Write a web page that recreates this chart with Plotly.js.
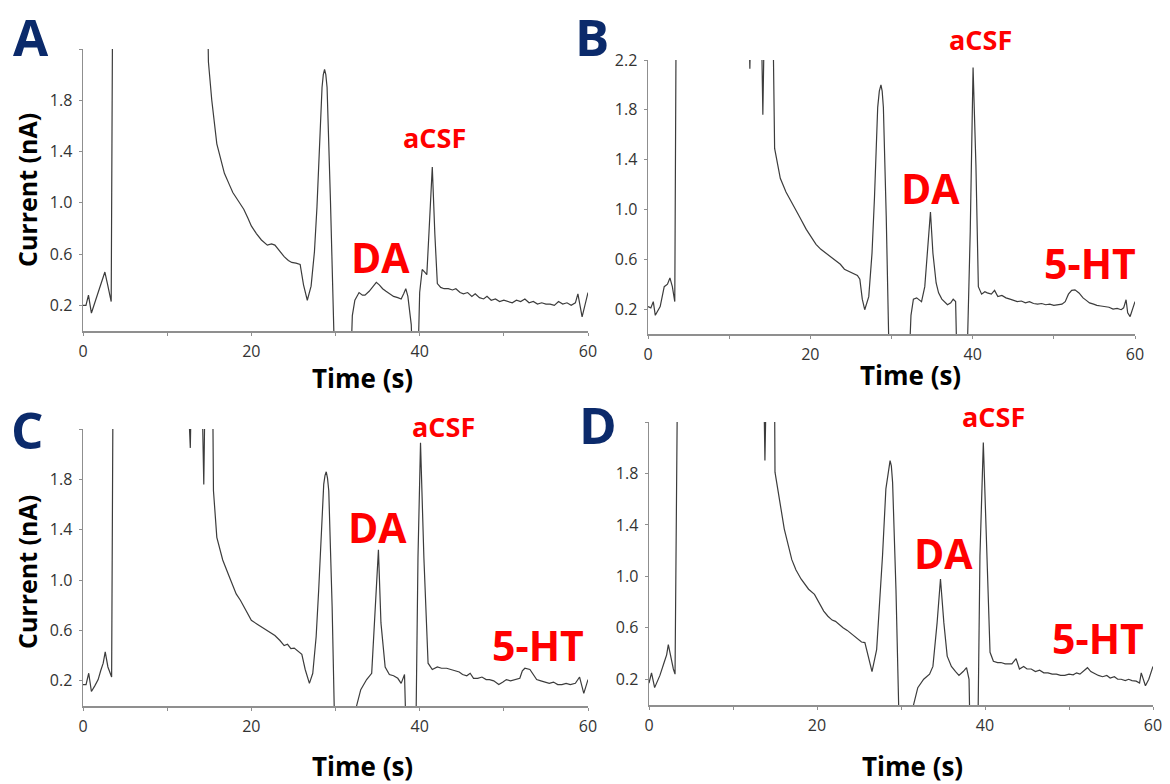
<!DOCTYPE html>
<html>
<head>
<meta charset="utf-8">
<script src="https://cdn.plot.ly/plotly-3.0.1.min.js"></script>
<style>html,body{margin:0;padding:0;background:#fff;}#chart{width:1170px;height:784px;}</style>
</head>
<body>
<div id="chart"></div>
<script>
// ---- Data (time in s, current in nA) ----
const tA = [0,0.35,0.65,1.0,1.4,1.8,2.2,2.6,2.9,3.35,3.55,14.7,14.9,15.3,15.9,16.8,17.4,17.8,18.4,19.1,19.6,20.0,20.6,21.2,21.9,22.4,22.8,23.3,23.9,24.4,24.8,25.3,25.8,26.2,26.65,27.1,27.5,27.8,28.1,28.4,28.55,28.7,28.85,29.0,29.4,29.7,30.0,31.7,32.0,32.3,32.8,33.2,33.5,34.0,34.4,34.85,35.2,35.6,36.0,36.4,36.9,37.4,37.8,38.1,38.35,38.6,39.0,39.3,39.7,40.0,40.3,40.6,40.85,41.1,41.5,41.8,42.1,42.5,42.9,43.4,43.9,44.3,44.8,45.2,45.7,46.2,46.6,47.1,47.6,48.0,48.5,49.0,49.5,50.0,50.5,51.0,51.5,52.0,52.5,53.0,53.5,54.0,54.5,55.0,55.5,56.0,56.5,57.0,57.5,58.0,58.5,58.8,59.3,59.7,60.0];
const vA = [0.20,0.20,0.28,0.14,0.22,0.30,0.37,0.46,0.37,0.23,3.0,3.0,2.1,1.80,1.46,1.23,1.14,1.08,1.02,0.95,0.88,0.82,0.76,0.71,0.67,0.68,0.67,0.63,0.58,0.55,0.535,0.53,0.52,0.36,0.24,0.35,0.62,0.97,1.45,1.90,2.0,2.04,2.0,1.90,1.02,0.2,-0.5,-0.5,0.12,0.24,0.30,0.28,0.28,0.31,0.34,0.38,0.36,0.33,0.31,0.29,0.27,0.26,0.25,0.29,0.33,0.27,0.05,-0.5,-0.5,0.30,0.48,0.46,0.44,0.76,1.28,0.76,0.37,0.34,0.33,0.33,0.32,0.33,0.30,0.29,0.30,0.27,0.29,0.26,0.25,0.27,0.24,0.25,0.23,0.24,0.23,0.22,0.24,0.23,0.25,0.22,0.23,0.21,0.22,0.21,0.21,0.20,0.23,0.21,0.22,0.20,0.22,0.29,0.11,0.22,0.30];

const tB = [0,0.35,0.65,0.9,1.5,2.0,2.4,2.7,3.0,3.3,3.5,12.3,12.55,12.8,13.85,14.15,14.45,15.3,15.6,16.3,17.0,17.7,18.6,19.5,20.1,20.7,21.3,21.9,22.5,23.2,23.7,24.2,24.8,25.3,25.8,26.1,26.4,26.7,27.2,27.6,27.9,28.3,28.5,28.7,28.85,29.0,29.35,29.8,32.0,32.4,32.7,33.1,33.7,34.1,34.4,34.8,35.1,35.5,35.8,36.2,36.9,37.3,37.6,37.9,38.15,39.2,39.7,40.05,40.4,40.7,41.1,41.5,41.8,42.3,42.7,43.1,43.6,44.1,44.6,45.0,45.5,46.0,46.5,47.0,47.5,48.0,48.5,49.0,49.5,50.0,50.5,51.0,51.4,51.8,52.2,52.6,53.1,53.6,54.0,54.4,54.9,55.3,55.8,56.3,56.8,57.3,57.8,58.3,58.6,58.9,59.1,59.4,60.0];
const vB = [0.22,0.21,0.26,0.15,0.22,0.38,0.40,0.45,0.38,0.26,3.0,3.0,2.13,3.0,3.0,1.76,3.0,3.0,1.49,1.25,1.14,1.06,0.95,0.84,0.78,0.72,0.68,0.65,0.62,0.59,0.56,0.52,0.50,0.49,0.47,0.44,0.28,0.195,0.30,0.65,1.09,1.82,1.95,2.0,1.95,1.82,0.95,-0.5,-0.5,0.15,0.28,0.29,0.26,0.38,0.65,0.98,0.65,0.41,0.33,0.28,0.235,0.25,0.28,0.26,-0.5,-0.5,0.82,2.14,1.36,0.38,0.32,0.34,0.33,0.32,0.35,0.30,0.31,0.29,0.28,0.27,0.26,0.265,0.25,0.26,0.245,0.24,0.245,0.235,0.24,0.23,0.235,0.24,0.26,0.32,0.35,0.355,0.33,0.29,0.27,0.25,0.24,0.23,0.225,0.22,0.215,0.20,0.205,0.195,0.21,0.275,0.17,0.14,0.26];

const tC = [0,0.36,0.68,1.0,1.4,1.8,2.1,2.4,2.64,2.96,3.4,3.6,12.15,12.75,13.0,14.0,14.35,14.6,15.35,15.5,15.9,16.6,17.3,17.8,18.2,18.7,19.1,19.6,20.0,20.7,21.4,22.1,22.8,23.4,23.9,24.3,24.7,25.1,25.6,26.0,26.4,26.9,27.3,27.7,28.0,28.3,28.6,28.75,28.9,29.05,29.2,29.6,30.0,31.9,32.5,33.0,33.7,34.3,34.6,35.1,35.4,35.9,36.4,36.9,37.4,37.8,38.2,38.5,39.5,39.8,40.1,40.5,41.0,41.5,42.1,42.6,43.2,43.7,44.2,44.7,45.1,45.6,46.0,46.4,46.9,47.4,47.9,48.3,48.8,49.4,49.9,50.3,50.8,51.3,51.9,52.2,52.5,53.1,53.5,53.9,54.4,54.9,55.4,55.9,56.4,56.9,57.4,57.9,58.5,59.0,59.5,60.0];
const vC = [0.17,0.17,0.26,0.115,0.16,0.21,0.28,0.34,0.43,0.31,0.23,3.0,3.0,2.05,3.0,3.0,1.76,3.0,3.0,1.71,1.34,1.16,1.04,0.96,0.89,0.84,0.79,0.73,0.68,0.65,0.62,0.59,0.56,0.52,0.48,0.49,0.455,0.46,0.43,0.41,0.29,0.18,0.26,0.55,0.92,1.40,1.76,1.83,1.86,1.81,1.71,0.79,-0.5,-0.5,0.0,0.13,0.21,0.26,0.66,1.24,0.66,0.31,0.25,0.24,0.22,0.18,0.25,-0.5,-0.5,1.18,2.09,1.18,0.34,0.29,0.31,0.30,0.30,0.29,0.28,0.27,0.25,0.24,0.26,0.22,0.22,0.23,0.21,0.21,0.20,0.17,0.19,0.21,0.20,0.21,0.22,0.28,0.30,0.29,0.25,0.21,0.20,0.19,0.18,0.19,0.17,0.17,0.18,0.17,0.18,0.23,0.10,0.21];

const tD = [0,0.3,0.67,1.3,1.8,2.1,2.3,2.55,2.9,3.1,3.45,13.55,13.8,14.1,14.9,15.0,15.45,16.1,17.0,17.5,18.1,18.6,19.0,19.7,20.4,20.8,21.3,21.8,22.2,22.7,23.1,23.6,24.0,24.5,24.9,25.3,25.7,26.1,26.55,27.1,27.5,27.8,28.2,28.5,28.7,28.85,29.0,29.4,29.9,31.3,32.0,32.7,33.4,33.8,34.3,34.7,35.1,35.5,36.0,36.5,36.9,37.4,37.8,38.1,38.3,39.1,39.4,39.8,40.2,40.6,41.0,41.5,41.9,42.4,42.8,43.2,43.7,44.1,44.6,45.0,45.5,46.0,46.5,47.0,47.5,48.0,48.5,49.0,49.5,50.0,50.5,50.9,51.3,51.8,52.2,52.6,53.1,53.5,54.0,54.5,54.9,55.4,55.8,56.2,56.7,57.1,57.5,58.0,58.4,58.6,59.1,59.5,60.0];
const vD = [0.17,0.25,0.135,0.23,0.33,0.39,0.47,0.38,0.28,0.24,3.0,3.0,1.90,3.0,3.0,1.81,1.62,1.37,1.13,1.05,0.98,0.93,0.90,0.86,0.77,0.73,0.69,0.66,0.65,0.62,0.60,0.58,0.56,0.53,0.51,0.49,0.485,0.38,0.26,0.43,0.80,1.16,1.68,1.83,1.90,1.86,1.73,0.90,-0.5,-0.05,0.135,0.20,0.24,0.30,0.64,0.98,0.64,0.38,0.30,0.26,0.23,0.26,0.29,0.20,-0.5,-0.5,1.16,2.04,1.16,0.41,0.34,0.33,0.33,0.32,0.32,0.32,0.36,0.28,0.30,0.28,0.28,0.26,0.27,0.25,0.25,0.24,0.24,0.23,0.23,0.24,0.235,0.25,0.24,0.27,0.29,0.26,0.24,0.23,0.22,0.23,0.21,0.22,0.20,0.20,0.19,0.20,0.19,0.185,0.17,0.25,0.15,0.20,0.30];

const xTickVals = [0,10,20,30,40,50,60];
const xTickText = ['0','','20','','40','','60'];
const yTickVals = [0.2,0.6,1.0,1.4,1.8,2.2];
const yTickTextACD = ['0.2','0.6','1.0','1.4','1.8',''];
const yTickTextB = ['0.2','0.6','1.0','1.4','1.8','2.2'];

const panelLetters = ['A','B','C','D'];
const xTitle = 'Time (s)';
const yTitle = 'Current (nA)';

// ---- Layout ----
const W = 1170, H = 784;
const px = x => x / W;
const py = y => 1 - y / H;

const lineStyle = {color:'#3c3c3c', width:1.2};
const traces = [
  {x:tA, y:vA, xaxis:'x',  yaxis:'y'},
  {x:tB, y:vB, xaxis:'x2', yaxis:'y2'},
  {x:tC, y:vC, xaxis:'x3', yaxis:'y3'},
  {x:tD, y:vD, xaxis:'x4', yaxis:'y4'}
].map(t => Object.assign(t, {type:'scatter', mode:'lines', line:lineStyle, hoverinfo:'skip', showlegend:false}));

function xax(x0, x1, anchor){
  return {domain:[px(x0), px(x1)], anchor:anchor, range:[0,60], showgrid:false, zeroline:false,
    showline:true, linecolor:'#8f8f8f', linewidth:1.5, ticks:'outside', ticklen:3, tickcolor:'#8f8f8f',
    tickvals:xTickVals, ticktext:xTickText, tickfont:{family:'Open Sans', size:16, color:'#333'}, ticklabelstandoff:2, fixedrange:true};
}
function yax(y0, y1, anchor, txt){
  return {domain:[py(y1), py(y0)], anchor:anchor, range:[0,2.2], showgrid:false, zeroline:false,
    showline:true, linecolor:'#8f8f8f', linewidth:1.5, ticks:'outside', ticklen:3, tickcolor:'#8f8f8f',
    tickvals:yTickVals, ticktext:txt, tickfont:{family:'Open Sans', size:16, color:'#333'}, ticklabelstandoff:3, fixedrange:true};
}

const red = '#ff0000';
function ann(text, x, y, size, color, extra){
  return Object.assign({text:text, x:px(x), y:py(y), xref:'paper', yref:'paper', showarrow:false,
    xanchor:'center', yanchor:'middle', font:{family:'Open Sans', size:size, color:color, weight:700}}, extra||{});
}

const annotations = [
  ann(panelLetters[0], 31, 36, 51, '#0b2a6b'),
  ann(panelLetters[1], 592, 36, 51, '#0b2a6b'),
  ann(panelLetters[2], 27, 429, 51, '#0b2a6b'),
  ann(panelLetters[3], 598, 424, 51, '#0b2a6b'),
  ann(yTitle, 27, 190, 25, '#000', {textangle:-90}),
  ann(yTitle, 27, 572, 25, '#000', {textangle:-90}),
  ann(xTitle, 362, 378, 26, '#000'),
  ann(xTitle, 910, 375, 26, '#000'),
  ann(xTitle, 362, 766, 26, '#000'),
  ann(xTitle, 912, 766, 26, '#000'),
  ann('DA', 380, 257, 41, red),
  ann('aCSF', 434, 137, 27, red),
  ann('aCSF', 980, 39, 27, red),
  ann('DA', 930, 188, 41, red),
  ann('5-HT', 1090, 263, 41, red),
  ann('aCSF', 443, 426, 27, red),
  ann('DA', 377, 527, 41, red),
  ann('5-HT', 538, 645, 41, red),
  ann('aCSF', 993, 416, 27, red),
  ann('DA', 943, 553, 41, red),
  ann('5-HT', 1098, 638, 41, red)
];

const layout = {
  width:W, height:H, autosize:false, margin:{l:0,r:0,t:0,b:0},
  paper_bgcolor:'#fff', plot_bgcolor:'#fff',
  font:{family:'Open Sans', color:'#333'},
  showlegend:false,
  xaxis: xax(83, 588, 'y'),
  yaxis: yax(49, 331, 'x', yTickTextACD),
  xaxis2: xax(648, 1135, 'y2'),
  yaxis2: yax(60, 334, 'x2', yTickTextB),
  xaxis3: xax(83, 588, 'y3'),
  yaxis3: yax(429, 706, 'x3', yTickTextACD),
  xaxis4: xax(649, 1153, 'y4'),
  yaxis4: yax(422, 705, 'x4', yTickTextACD),
  annotations: annotations
};

Plotly.newPlot('chart', traces, layout, {staticPlot:true, displayModeBar:false});
</script>
</body>
</html>
